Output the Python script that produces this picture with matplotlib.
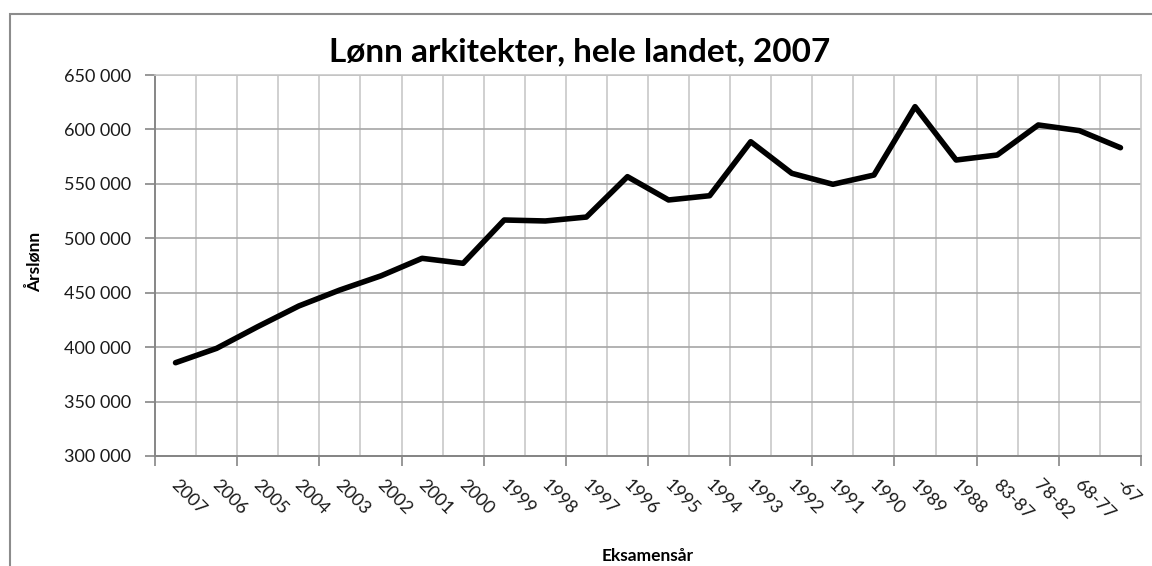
import matplotlib
matplotlib.use("Agg")
import matplotlib.pyplot as plt
from matplotlib.ticker import FixedLocator, FuncFormatter, MultipleLocator
from matplotlib.patches import Rectangle
from matplotlib.transforms import ScaledTranslation

categories = ["2007", "2006", "2005", "2004", "2003", "2002", "2001", "2000",
              "1999", "1998", "1997", "1996", "1995", "1994", "1993", "1992",
              "1991", "1990", "1989", "1988", "83-87", "78-82", "68-77", "-67"]
salary = [385700, 398900, 418800, 437800, 452500, 465500, 481600, 477000,
          516800, 515900, 519500, 556600, 535200, 539100, 588700, 559700,
          549600, 558100, 620900, 571900, 576500, 604100, 598900, 583200]
title = "Lønn arkitekter, hele landet, 2007"
xlabel = "Eksamensår"
ylabel = "Årslønn"

plt.rcParams['font.family'] = ['Lato', 'DejaVu Sans']

W, H = 1152, 566
fig = plt.figure(figsize=(W / 100, H / 100), dpi=100)
L, R, T, B = 155, 1141, 75, 456
ax = fig.add_axes([L / W, (H - B) / H, (R - L) / W, (B - T) / H])

n = len(categories)
xs = list(range(n))
ax.plot(xs, salary, color="black", lw=4.0, solid_joinstyle="round",
        solid_capstyle="round", zorder=5, clip_on=False)

ax.set_xlim(-0.5, n - 0.5)
ax.set_ylim(300000, 650000)

# y axis
ax.yaxis.set_major_locator(MultipleLocator(50000))
ax.yaxis.set_major_formatter(FuncFormatter(lambda v, p: f"{int(v):,}".replace(",", " ")))
ax.grid(axis="y", which="major", color="#a6a6a6", lw=1.2)
ax.tick_params(axis="y", which="major", length=7, width=1.2, color="#868686",
               labelsize=13, pad=10, labelcolor="#1a1a1a")

# x axis: labels at category centres, gridlines at boundaries
ax.set_xticks(xs)
ax.set_xticklabels(categories, rotation=-45, ha="left", va="top",
                   rotation_mode="anchor", fontsize=13, color="#1a1a1a")
ax.tick_params(axis="x", which="major", length=0, pad=15)
shift = ScaledTranslation(4 / 100, 0, fig.dpi_scale_trans)
for lab in ax.get_xticklabels():
    lab.set_transform(lab.get_transform() + shift)
ax.xaxis.set_minor_locator(FixedLocator([i - 0.5 for i in range(1, n)]))
ax.tick_params(axis="x", which="minor", length=0)
ax.grid(axis="x", which="minor", color="#c8c8c8", lw=1.2)
ax.set_axisbelow(True)

# tick marks every second boundary
sec = ax.secondary_xaxis("bottom")
sec.set_xticks([i - 0.5 for i in range(0, n + 1, 2)])
sec.set_xticklabels([])
sec.tick_params(length=7, width=1.2, color="#868686")
sec.spines["bottom"].set_color("#868686")
sec.spines["bottom"].set_linewidth(1.4)

for s in ("left", "bottom"):
    ax.spines[s].set_color("#868686")
    ax.spines[s].set_linewidth(1.4)
for s in ("top", "right"):
    ax.spines[s].set_color("#c8c8c8")
    ax.spines[s].set_linewidth(1.2)

# titles
fig.text(580 / W, 1 - 52 / H, title, ha="center", va="center",
         fontsize=24, fontweight="bold", color="black")
fig.text((L + R) / 2 / W, 1 - 556 / H, xlabel, ha="center", va="center",
         fontsize=12.5, fontweight="bold", color="black")
fig.text(34 / W, 1 - 262 / H, ylabel, ha="center", va="center", rotation=90,
         fontsize=12.5, fontweight="bold", color="black")

# outer chart border
fig.patches.append(Rectangle((10 / W, -0.1), 2, 1 - 14 / H + 0.1,
                             transform=fig.transFigure, fill=False,
                             edgecolor="#8c8c8c", lw=1.5))

fig.savefig("out.png", dpi=100)
